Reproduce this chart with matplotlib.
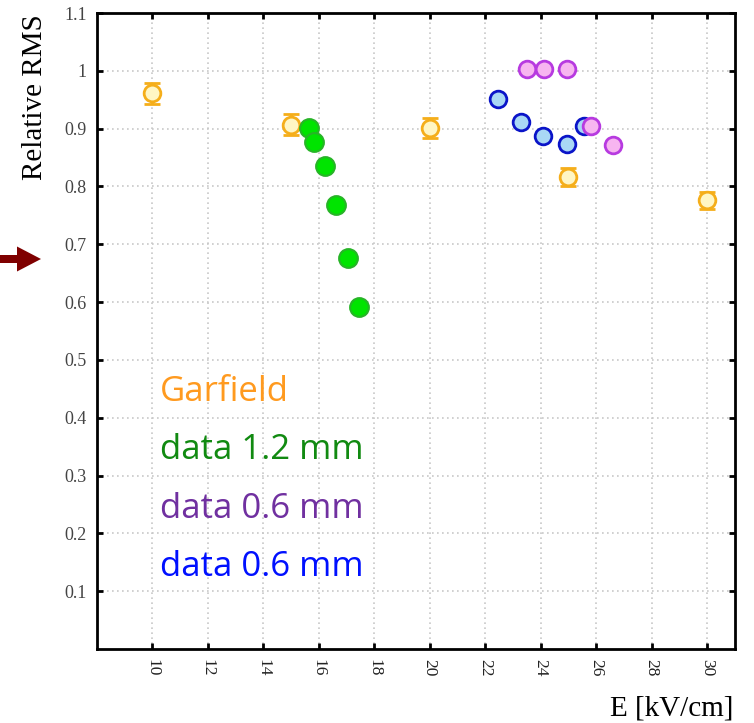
import numpy as np
import matplotlib
matplotlib.use("Agg")
import matplotlib.pyplot as plt
from matplotlib.patches import Polygon


plt.rcParams.update({
    "font.family": "Liberation Serif",
    "xtick.direction": "in",
    "ytick.direction": "in",
})


# Garfield simulation (with error bars)
garfield_e = [10, 15, 20, 25, 30]
garfield_rms = [0.961, 0.907, 0.901, 0.816, 0.776]
garfield_err = [0.018, 0.018, 0.017, 0.016, 0.0145]

# data 1.2 mm
green_e = [15.64, 15.82, 16.24, 16.64, 17.06, 17.47]
green_rms = [0.901, 0.877, 0.836, 0.768, 0.676, 0.591]

# data 0.6 mm (blue)
blue_e = [22.46, 23.3, 24.1, 24.95, 25.57]
blue_rms = [0.952, 0.911, 0.887, 0.873, 0.905]

# data 0.6 mm (magenta)
magenta_e = [23.5, 24.13, 24.95, 25.8, 26.6]
magenta_rms = [1.003, 1.003, 1.003, 0.905, 0.871]

x_ticks = np.arange(10, 31, 2)
y_ticks = [0.1, 0.2, 0.3, 0.4, 0.5, 0.6, 0.7, 0.8, 0.9, 1.0, 1.1]
y_ticklabels = ["0.1", "0.2", "0.3", "0.4", "0.5", "0.6", "0.7", "0.8", "0.9", "1", "1.1"]

legend_texts = ["Garfield", "data 1.2 mm", "data 0.6 mm", "data 0.6 mm"]
legend_colors = ["#FF9A1F", "#118A11", "#7030A0", "#0010FF"]
legend_y = [0.429, 0.329, 0.227, 0.127]


W, H = 754, 723
fig = plt.figure(figsize=(W / 100, H / 100), dpi=100)
ax = fig.add_axes([96.5 / W, 1 - 649 / H, (735 - 96.5) / W, (649 - 13) / H])

ax.grid(True, color="#c8c8c8", ls=(0, (1, 2)), lw=1.2, zorder=0)

ax.errorbar(
    garfield_e, garfield_rms, yerr=garfield_err,
    fmt="o", ms=12, mfc="#FFF6C4", mec="#F5AE1A", mew=2.0,
    ecolor="#F5AE1A", elinewidth=2.0, capsize=6, capthick=2.0, zorder=4,
)

ax.plot(green_e, green_rms, "o", ms=13.5, mfc="#00E400", mec="#27B427",
        mew=1.5, zorder=5)
ax.plot(blue_e, blue_rms, "o", ms=12, mfc="#A9D8F5", mec="#0A14C8",
        mew=2.0, zorder=5)
ax.plot(magenta_e, magenta_rms, "o", ms=12, mfc="#F7B5F0", mec="#B73AE0",
        mew=2.0, zorder=6)

for txt, col, yy in zip(legend_texts, legend_colors, legend_y):
    ax.text(10.3, yy, txt, color=col, fontsize=25, family="Open Sans",
            ha="left", va="baseline", zorder=7)

ax.set_xlim(8, 31)
ax.set_ylim(0, 1.1)
ax.set_xticks(x_ticks)
ax.set_xticklabels([str(v) for v in x_ticks], rotation=-90, fontsize=12.5,
                   color="#222222")
ax.set_yticks(y_ticks)
ax.set_yticklabels(y_ticklabels, fontsize=13, color="#444444")
ax.tick_params(axis="both", which="major", length=4, width=2,
               top=True, right=True)
ax.tick_params(axis="x", pad=7)
ax.tick_params(axis="y", pad=7)

for spine in ax.spines.values():
    spine.set_linewidth(2.0)
    spine.set_color("black")

fig.text(35 / W, 1 - 97 / H, "Relative RMS", rotation=90, fontsize=21,
         ha="center", va="center")
fig.text(733 / W, 1 - 716 / H, "E [kV/cm]", fontsize=21,
         ha="right", va="baseline")

# dark red arrow on the left edge
arrow_px = [(0, 255), (17, 255), (17, 246.5), (41, 259), (17, 271.5),
            (17, 263), (0, 263)]
arrow = Polygon([(x / W, 1 - y / H) for x, y in arrow_px],
                closed=True, facecolor="#7F0000", edgecolor="none",
                transform=fig.transFigure)
fig.patches.append(arrow)

fig.savefig("out.png", dpi=100)
